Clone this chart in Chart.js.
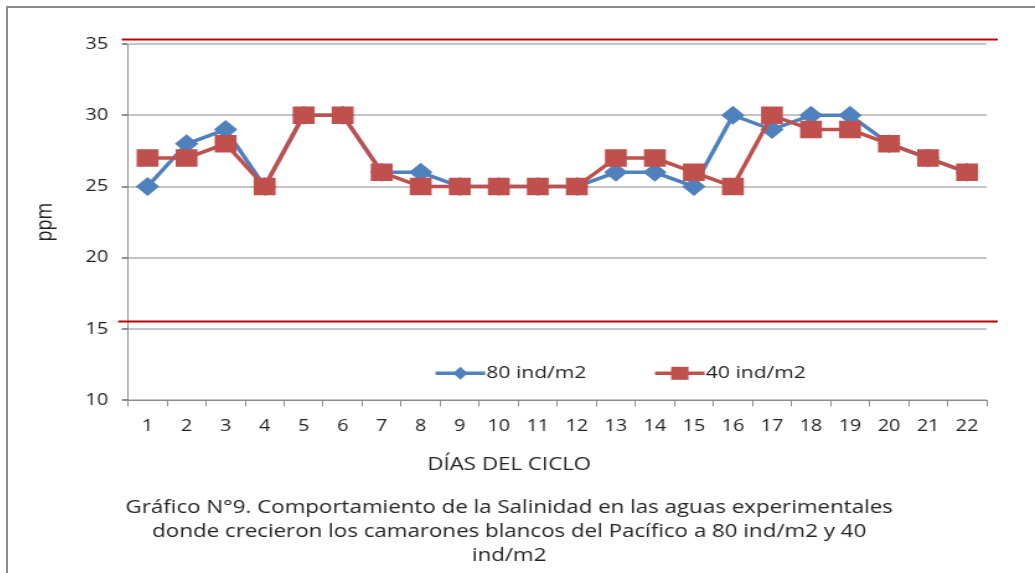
<!DOCTYPE html>
<html>
<head>
<meta charset="utf-8">
<script src="https://cdn.jsdelivr.net/npm/chart.js@4"></script>
<style>
  html, body { margin: 0; padding: 0; background: #fff; overflow: hidden; width: 1035px; height: 573px; }
  #marco { position: absolute; left: 6px; top: 6px; width: 1100px; height: 700px;
           border-left: 2px solid #8c8c8c; border-top: 2px solid #8c8c8c; }
  /* la figura original esta estirada a lo ancho, se copia con scaleX */
  #caja { position: absolute; left: 7px; top: 0; width: 835px; height: 573px;
          transform: scaleX(1.24); transform-origin: 0 0; }
</style>
</head>
<body>
<div id="marco"></div>
<div id="caja"><canvas id="grafica9"></canvas></div>
<script>
const dias = ['1','2','3','4','5','6','7','8','9','10','11','12','13','14','15','16','17','18','19','20','21','22'];
const ind80 = [25, 28, 29, 25, 30, 30, 26, 26, 25, 25, 25, 25, 26, 26, 25, 30, 29, 30, 30, 28, 27, 26];
const ind40 = [27, 27, 28, 25, 30, 30, 26, 25, 25, 25, 25, 25, 27, 27, 26, 25, 30, 29, 29, 28, 27, 26];
const limites = [35.35, 15.55]; // lineas rojas (limites de salinidad)
const yTicks = [10, 15, 20, 25, 30, 35];

const fuente = "'Open Sans', 'DejaVu Sans', sans-serif";
const azul = '#4F81BD';
const rojo = '#C0504D';

// lineas rojas y leyenda dentro del area del grafico
const extras = {
    id: 'extras',
    afterDatasetsDraw(chart) {
        const ctx = chart.ctx;
        const area = chart.chartArea;
        const y = chart.scales.y;
        ctx.save();
        ctx.strokeStyle = '#C00000';
        ctx.lineWidth = 2;
        limites.forEach((v, i) => {
            const py = Math.round(y.getPixelForValue(v)) + 0.5;
            ctx.beginPath();
            ctx.moveTo(area.left - (i === 0 ? 5 : 8), py);
            ctx.lineTo(area.right + 9, py);
            ctx.stroke();
        });

        // leyenda
        const ly = y.getPixelForValue(11.9);
        const xs = [area.left + 248, area.left + 425];
        ctx.font = '17px ' + fuente;
        ctx.textBaseline = 'middle';
        chart.data.datasets.forEach((ds, i) => {
            const x0 = xs[i];
            ctx.strokeStyle = ds.borderColor;
            ctx.lineWidth = 3.5;
            ctx.beginPath();
            ctx.moveTo(x0, ly);
            ctx.lineTo(x0 + 40, ly);
            ctx.stroke();
            ctx.fillStyle = ds.backgroundColor;
            if (ds.pointStyle === 'rect') {
                ctx.fillRect(x0 + 13, ly - 6.5, 14, 13);
            } else {
                ctx.beginPath();
                ctx.moveTo(x0 + 20, ly - 6.5);
                ctx.lineTo(x0 + 26, ly);
                ctx.lineTo(x0 + 20, ly + 6.5);
                ctx.lineTo(x0 + 14, ly);
                ctx.closePath();
                ctx.fill();
            }
            ctx.fillStyle = '#222';
            ctx.textAlign = 'left';
            ctx.fillText(ds.label, x0 + 41, ly);
        });
        ctx.restore();
    }
};

new Chart(document.querySelector('#grafica9'), {
    type: 'line',
    data: {
        labels: dias,
        datasets: [
            {
                label: '80 ind/m2',
                data: ind80,
                borderColor: azul,
                backgroundColor: azul,
                borderWidth: 3.5,
                pointStyle: 'rectRot',
                pointRadius: 7,
                pointHoverRadius: 7,
                tension: 0,
                order: 1
            },
            {
                label: '40 ind/m2',
                data: ind40,
                borderColor: rojo,
                backgroundColor: rojo,
                borderWidth: 3.5,
                pointStyle: 'rect',
                pointRadius: 10,
                pointHoverRadius: 10,
                tension: 0,
                order: 0
            }
        ]
    },
    options: {
        responsive: true,
        maintainAspectRatio: false,
        animation: false,
        layout: { padding: { top: 44, right: 45, left: 20, bottom: 5 } },
        plugins: {
            legend: { display: false },
            tooltip: { enabled: false },
            subtitle: {
                display: true,
                position: 'bottom',
                text: 'DÍAS DEL CICLO',
                color: '#222',
                font: { family: fuente, size: 18 },
                padding: { top: 8, bottom: 21 }
            },
            title: {
                display: true,
                position: 'bottom',
                text: [
                    'Gráfico N°9. Comportamiento de la Salinidad en las aguas experimentales',
                    'donde crecieron los camarones blancos del Pacífico a 80 ind/m2 y 40',
                    'ind/m2'
                ],
                color: '#222',
                font: { family: fuente, size: 18, weight: 'normal', lineHeight: 1.33 },
                padding: 0
            }
        },
        scales: {
            x: {
                offset: true,
                grid: { display: true, drawOnChartArea: false, offset: true, tickLength: 6, color: '#8c8c8c' },
                border: { color: '#8c8c8c' },
                ticks: { color: '#222', font: { family: fuente, size: 16 }, padding: 10, maxRotation: 0 }
            },
            y: {
                min: 10,
                max: 35,
                afterBuildTicks: s => { s.ticks = yTicks.map(v => ({ value: v })); },
                afterFit: s => { s.width = 77.6; },
                grid: { color: '#c4c4c4', lineWidth: 2, tickLength: 5, tickColor: '#8c8c8c' },
                border: { color: '#8c8c8c', width: 1 },
                ticks: { color: '#222', font: { family: fuente, size: 16 }, padding: 11 },
                title: {
                    display: true,
                    text: 'ppm',
                    color: '#222',
                    font: { family: fuente, size: 18 },
                    padding: { top: 0, bottom: 0 }
                }
            }
        }
    },
    plugins: [extras]
});
</script>
</body>
</html>
